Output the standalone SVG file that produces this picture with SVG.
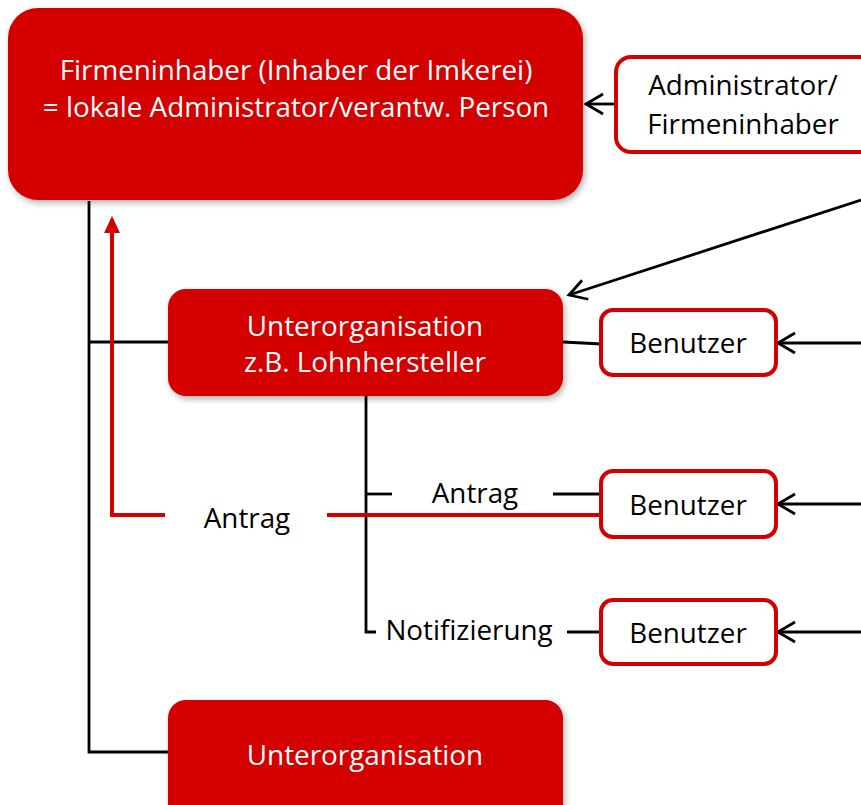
<svg xmlns="http://www.w3.org/2000/svg" width="861" height="805" viewBox="0 0 861 805">
<style>
.t{font-family:"Open Sans","Liberation Sans",sans-serif;font-size:27.8px;text-anchor:middle}
.w{fill:#ffffff}
.k{fill:#000000}
.rb{fill:#d40000}
.ob{fill:#ffffff;stroke:#d40000;stroke-width:4}
.bl{stroke:#000;stroke-width:2.8;fill:none}
.rl{stroke:#d40000;stroke-width:4;fill:none}
</style>
<defs>
<filter id="sh" x="-10%" y="-10%" width="120%" height="130%">
<feDropShadow dx="2" dy="3" stdDeviation="3" flood-color="#000" flood-opacity="0.3"/>
</filter>
<marker id="oa" viewBox="0 0 24 24" refX="21" refY="12" markerWidth="24" markerHeight="24" markerUnits="userSpaceOnUse" orient="auto">
<path d="M4,2 L21,12 L4,22" fill="none" stroke="#000" stroke-width="2.8"/>
</marker>
<marker id="ra" viewBox="0 0 16 17" refX="8" refY="16" markerWidth="16" markerHeight="17" markerUnits="userSpaceOnUse" orient="0">
<path d="M8,0 L16,17 L0,17 Z" fill="#d40000"/>
</marker>
</defs>
<g id="connectors">
<path class="bl" d="M89,201 L89,752 L170,752"/>
<path class="bl" d="M89,342 L170,342"/>
<path class="bl" d="M563,342 L602,344"/>
<path class="bl" d="M366,396 L366,632 L376,632"/>
<path class="bl" d="M366,494 L392,494"/>
<path class="bl" d="M553,494 L602,494"/>
<path class="bl" d="M567,632 L602,632"/>
<path class="bl" d="M615,104 L586,104" marker-end="url(#oa)"/>
<path class="bl" d="M861,200 L569,295" marker-end="url(#oa)"/>
<path class="bl" d="M861,343 L778,343" marker-end="url(#oa)"/>
<path class="bl" d="M861,504 L778,504" marker-end="url(#oa)"/>
<path class="bl" d="M861,632 L778,632" marker-end="url(#oa)"/>
<path class="rl" d="M165,515 L112,515 L112,232" marker-end="url(#ra)"/>
<path class="rl" d="M327,515 L602,515"/>
<text class="t k" x="247" y="528">Antrag</text>
<text class="t k" x="475" y="503">Antrag</text>
<text class="t k" x="469" y="640">Notifizierung</text>
</g>
<g id="firmeninhaber">
<rect class="rb" x="8" y="8" width="575" height="192" rx="30" filter="url(#sh)"/>
<text class="t w" x="296" y="80">Firmeninhaber (Inhaber der Imkerei)</text>
<text class="t w" x="296" y="117">= lokale Administrator/verantw. Person</text>
</g>
<g id="admin">
<rect class="ob" x="616" y="57" width="270" height="95" rx="15"/>
<text class="t k" x="743" y="95">Administrator/</text>
<text class="t k" x="743" y="134">Firmeninhaber</text>
</g>
<g id="unterorg1">
<rect class="rb" x="168" y="289" width="395" height="107" rx="18" filter="url(#sh)"/>
<text class="t w" x="365" y="336">Unterorganisation</text>
<text class="t w" x="365" y="372">z.B. Lohnhersteller</text>
</g>
<g id="benutzer1">
<rect class="ob" x="601" y="310" width="175" height="65" rx="12"/>
<text class="t k" x="688" y="353">Benutzer</text>
</g>
<g id="benutzer2">
<rect class="ob" x="601" y="471" width="175" height="66" rx="12"/>
<text class="t k" x="688" y="515">Benutzer</text>
</g>
<g id="benutzer3">
<rect class="ob" x="601" y="600" width="175" height="64" rx="12"/>
<text class="t k" x="688" y="643">Benutzer</text>
</g>
<g id="unterorg2">
<rect class="rb" x="168" y="700" width="395" height="125" rx="18" filter="url(#sh)"/>
<text class="t w" x="365" y="765">Unterorganisation</text>
</g>
</svg>
